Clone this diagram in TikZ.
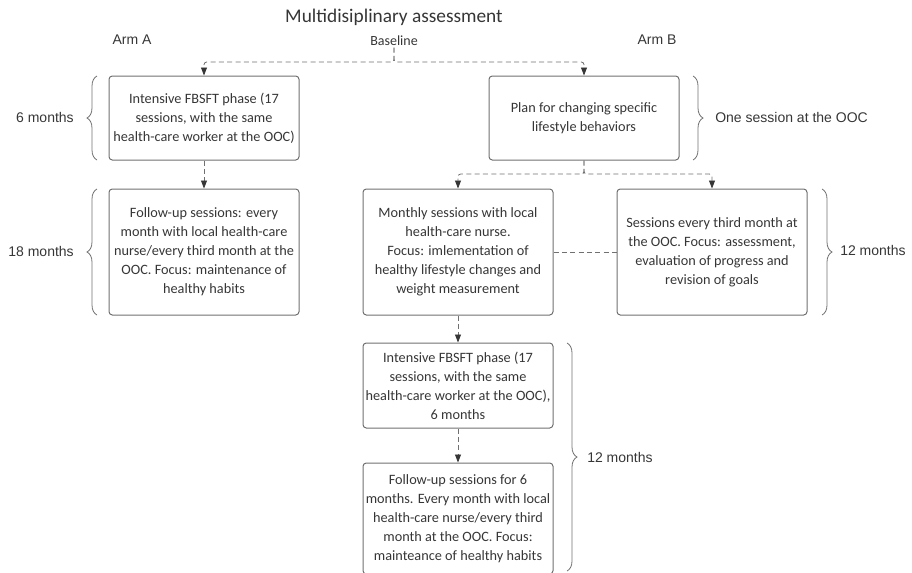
\documentclass[tikz,border=0pt]{standalone}
\usepackage{fontspec}
\setmainfont{Carlito}
\newfontfamily\armfont{Liberation Sans}
\usetikzlibrary{arrows.meta, positioning, decorations.pathreplacing}

\definecolor{textgray}{HTML}{363636}
\definecolor{linegray}{HTML}{707070}

\begin{document}
\begin{tikzpicture}[
    x=0.75pt,
    y=-0.75pt,
    block/.style={
        rectangle,
        draw=linegray,
        line width=0.75pt,
        text=textgray,
        minimum width=142.5pt,
        align=center,
        font=\fontsize{10.7}{14.25}\selectfont,
        rounded corners=2.5pt,
        inner sep=0pt
    },
    arrow/.style={
        -{Triangle[length=6pt,width=4.5pt,color=textgray]},
        dash pattern=on 3.75pt off 2.5pt,
        line width=0.6pt,
        draw=linegray,
        rounded corners=2pt
    },
    link/.style={
        dash pattern=on 3.75pt off 2.5pt,
        line width=0.6pt,
        draw=linegray
    },
    timebrace/.style={
        decorate,
        decoration={brace, amplitude=7.5pt},
        draw=linegray,
        line width=0.6pt
    },
    period/.style={
        text=textgray,
        font=\armfont\fontsize{10.5}{12}\selectfont,
        inner sep=0pt
    }
]
    \useasboundingbox (0,0) rectangle (912,572);

    % headings
    \node [text=textgray, font=\fontsize{14.5}{16}\selectfont] (title) at (394,17) {Multidisiplinary assessment};
    \node [period] (arma) at (132,40) {Arm A};
    \node [period] (armb) at (657,40) {Arm B};
    \node [text=textgray, font=\fontsize{10.5}{12}\selectfont, inner sep=1pt] (base) at (394,41) {Baseline};

    % arm A
    \node [block, minimum height=63pt] (a1) at (204,118) {Intensive FBSFT phase (17\\ sessions, with the same\\ health-care worker at the OOC)};
    \node [block, minimum height=94.5pt] (a2) at (204,252) {Follow-up sessions: every\\ month with local health-care\\ nurse/every third month at the\\ OOC. Focus: maintenance of\\ healthy habits};

    % arm B
    \node [block, minimum height=63pt] (b1) at (584,118) {Plan for changing specific\\ lifestyle behaviors};
    \node [block, minimum height=94.5pt] (b2) at (458,252) {Monthly sessions with local\\ health-care nurse.\\ Focus: imlementation of\\ healthy lifestyle changes and\\ weight measurement};
    \node [block, minimum height=94.5pt] (b3) at (712,252) {Sessions every third month at\\ the OOC. Focus: assessment,\\ evaluation of progress and\\ revision of goals};
    \node [block, minimum height=63.75pt] (b4) at (458,385.5) {Intensive FBSFT phase (17\\ sessions, with the same\\ health-care worker at the OOC),\\ 6 months};
    \node [block, minimum height=83.25pt] (b5) at (458,518.5) {Follow-up sessions for 6\\ months. Every month with local\\ health-care nurse/every third\\ month at the OOC. Focus:\\ mainteance of healthy habits};

    % connectors
    \coordinate (split1) at (394,62);
    \coordinate (split2) at (584,174);
    \draw [arrow] (base.south) -- (split1) -| (a1.north);
    \draw [arrow] (base.south) -- (split1) -| (b1.north);
    \draw [arrow] (a1) -- (a2);
    \draw [arrow] (b1.south) -- (split2) -| (b2.north);
    \draw [arrow] (b1.south) -- (split2) -| (b3.north);
    \draw [link] (b2) -- (b3);
    \draw [arrow] (b2) -- (b4);
    \draw [arrow] (b4) -- (b5);

    % time spans
    \draw [timebrace] (97,160) -- (97,76);
    \draw [timebrace] (97,315) -- (97,189);
    \draw [timebrace] (693,76) -- (693,160);
    \draw [timebrace] (822,189) -- (822,315);
    \draw [timebrace] (567,343) -- (567,571);
    \node [period, anchor=east] (t1) at (74,117) {6 months};
    \node [period, anchor=east] (t2) at (74,251) {18 months};
    \node [period, anchor=west] (t3) at (715,117) {One session at the OOC};
    \node [period, anchor=west] (t4) at (840,250) {12 months};
    \node [period, anchor=west] (t5) at (587,457) {12 months};
\end{tikzpicture}
\end{document}
